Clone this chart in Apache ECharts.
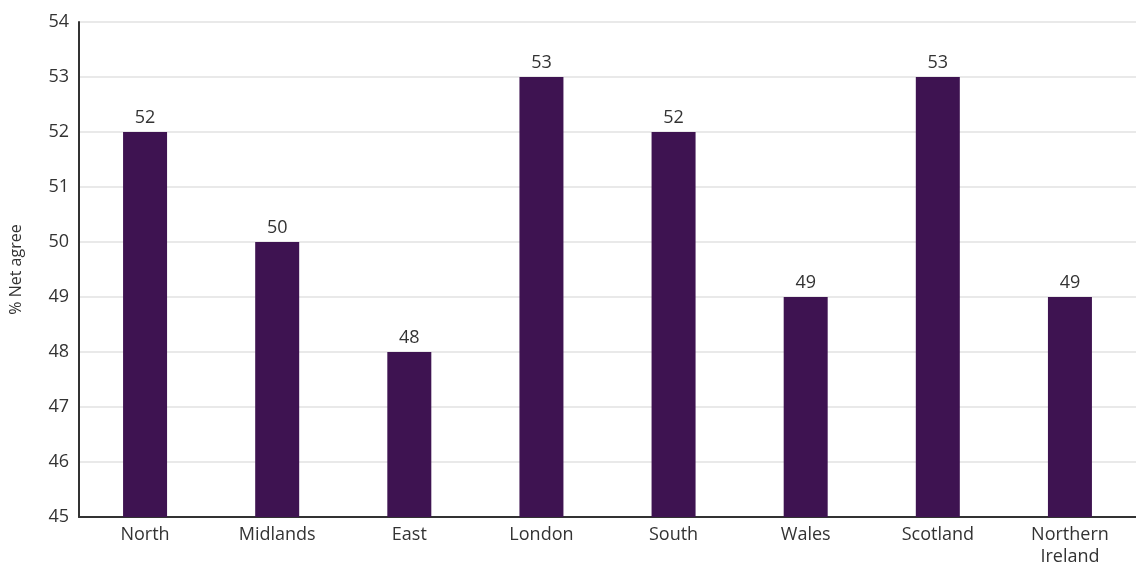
<!DOCTYPE html>
<html><head><meta charset="utf-8">
<script src="https://cdn.jsdelivr.net/npm/echarts@6/dist/echarts.min.js"></script>
<style>html,body{margin:0;padding:0;background:#fff}#c{width:1136px;height:568px}</style>
</head><body><div id="c"></div>
<script>
const categories = ['North','Midlands','East','London','South','Wales','Scotland','Northern\nIreland'];
const netAgree = [52, 50, 48, 53, 52, 49, 53, 49];
const yMin = 45, yMax = 54, yStep = 1;
const yAxisTitle = '% Net agree';

const chart = echarts.init(document.getElementById('c'));
const font = '"Open Sans", sans-serif';
chart.setOption({
  animation: false,
  grid: {left: 78, right: -3, top: 22, bottom: 49},
  xAxis: {
    type: 'category', data: categories,
    axisLine: {lineStyle: {color: '#333', width: 2}},
    axisTick: {show: false},
    axisLabel: {color: '#333', fontSize: 18, fontFamily: font, margin: 7, lineHeight: 22}
  },
  yAxis: {
    type: 'value', min: yMin, max: yMax, interval: yStep,
    name: yAxisTitle, nameLocation: 'middle', nameGap: 55, nameRotate: 90,
    nameTextStyle: {color: '#333', fontSize: 16, fontFamily: font},
    axisLine: {show: true, lineStyle: {color: '#333', width: 2}},
    axisTick: {show: false},
    axisLabel: {color: '#333', fontSize: 18, fontFamily: font, margin: 10},
    splitLine: {lineStyle: {color: '#e2e2e2', width: 1.5}}
  },
  series: [{
    type: 'bar', data: netAgree, barWidth: 44,
    itemStyle: {color: '#3e1351'},
    label: {show: true, position: 'top', distance: 5, color: '#333', fontSize: 18, fontFamily: font}
  }]
});
</script></body></html>
